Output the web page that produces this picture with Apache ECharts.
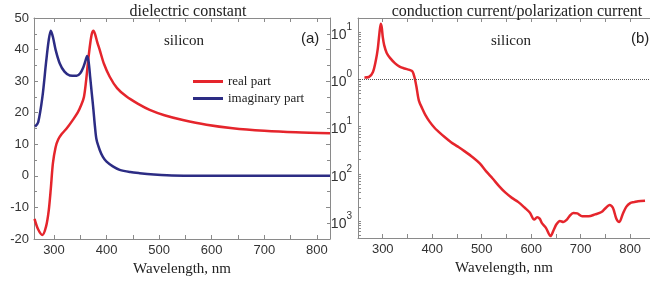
<!DOCTYPE html>
<html>
<head>
<meta charset="utf-8">
<script src="https://cdn.jsdelivr.net/npm/echarts@6/dist/echarts.min.js"></script>
<style>
html, body { margin: 0; padding: 0; background: #fff; }
#chart { width: 650px; height: 282px; }
</style>
</head>
<body>
<div id="chart"></div>
<script>
// (a) dielectric constant of silicon
var realWl = [263, 270, 278, 285, 290, 294, 298, 303, 308, 315, 324, 335, 345, 352, 357, 361, 365, 369, 372, 375, 378, 382, 387, 395, 406, 420, 438, 460, 482, 510, 545, 590, 640, 700, 760, 825];
var realEps = [-13.6, -17, -18.7, -16, -11, -4, 4, 9, 11.5, 13.3, 15, 17.5, 20, 22.5, 25, 30, 36.5, 42, 45, 46, 45, 42.5, 39.9, 35.5, 31.4, 27.8, 25.1, 22.8, 20.9, 19.2, 17.7, 16.2, 15.1, 14.3, 13.8, 13.5];
var imagWl = [264, 270, 278, 285, 290, 294, 298, 303, 311, 320, 330, 343, 350, 356, 360, 363, 366, 369, 372, 375, 378, 381, 387, 393, 400, 412, 425, 445, 463, 490, 515, 560, 620, 700, 825];
var imagEps = [15.6, 17, 25, 36, 43, 46, 44, 40, 35.6, 33, 31.8, 31.7, 32.5, 34.5, 36.5, 38, 36, 31, 26, 21, 15.5, 11.4, 8.2, 6, 4.5, 3, 1.9, 1.2, 0.85, 0.45, 0.2, 0.05, 0, 0, 0];

// (b) conduction current / polarization current, stored as log10
var ratioWl = [263, 272, 280, 286, 290, 293, 296, 298, 300, 303, 308, 315, 325, 334, 344, 354, 360, 364, 368, 373, 380, 386, 395, 405, 412, 425, 438, 451, 465, 483, 496, 509, 522, 535, 548, 561, 574, 587, 597, 606, 612, 617, 622, 630, 639, 645, 651, 658, 665, 672, 677, 685, 693, 703, 716, 729, 742, 750, 758, 765, 772, 778, 785, 792, 800, 808, 816, 830];
var ratioLog = [0.04, 0.05, 0.15, 0.4, 0.65, 0.95, 1.18, 1.1, 0.9, 0.72, 0.56, 0.45, 0.34, 0.27, 0.23, 0.2, 0.17, 0.05, -0.15, -0.45, -0.62, -0.75, -0.9, -1.03, -1.1, -1.22, -1.33, -1.42, -1.52, -1.66, -1.78, -1.95, -2.1, -2.26, -2.4, -2.51, -2.6, -2.72, -2.82, -2.97, -2.92, -2.95, -3.05, -3.15, -3.32, -3.2, -3.07, -3.0, -3.02, -2.97, -2.9, -2.83, -2.84, -2.9, -2.9, -2.86, -2.81, -2.73, -2.66, -2.72, -2.95, -3.02, -2.85, -2.7, -2.62, -2.6, -2.58, -2.57];

// ticks
var xTicks = [300, 400, 500, 600, 700, 800];
var xMinor = [300, 350, 400, 450, 500, 550, 600, 650, 700, 750, 800];
var logTicks = [-3, -2, -1, 0, 1];
var logSup = ['3', '2', '1', '0', '1']; // exponents as printed in the figure

var RED = '#e5252c', BLUE = '#2c2c84', AXIS = '#8a8a8a';
var SERIF = '"Liberation Serif", "DejaVu Serif", serif';
var SANS = '"Liberation Sans", Arial, sans-serif';

function pairs(xs, ys) {
  var out = [];
  for (var i = 0; i < xs.length; i++) out.push([xs[i], ys[i]]);
  return out;
}

// log minor ticks for each decade
var logMinor = [];
for (var d = -4; d <= 1; d++) {
  for (var m = 1; m <= 9; m++) {
    var v = d + Math.log10(m);
    if (v > -3.36 && v < 1.3) logMinor.push(v);
  }
}

var myChart = echarts.init(document.getElementById('chart'));

function xAx(grid, pos, min, max, labels) {
  return {
    type: 'value', gridIndex: grid, position: pos, min: min, max: max,
    axisLine: { show: true, onZero: false, lineStyle: { color: AXIS, width: 1 } },
    axisTick: { show: true, inside: true, length: 4, lineStyle: { color: AXIS }, customValues: xMinor },
    axisLabel: labels ? { show: true, customValues: xTicks, color: '#333', fontSize: 13, fontFamily: SANS, margin: 5 } : { show: false },
    splitLine: { show: false },
    name: labels ? 'Wavelength, nm' : '', nameLocation: 'middle', nameGap: 17,
    nameTextStyle: { fontFamily: SERIF, fontSize: 15, color: '#222' }
  };
}

var option = {
  animation: false,
  backgroundColor: '#fff',
  grid: [
    { left: 34, right: 320, top: 18, bottom: 43 },
    { left: 358, right: -12, top: 18, bottom: 44 }
  ],
  title: [
    { text: 'dielectric constant', left: 183, top: -1, textAlign: 'center',
      textStyle: { fontFamily: SERIF, fontSize: 16, fontWeight: 'normal', color: '#222' } },
    { text: 'conduction current/polarization current', left: 512, top: -1, textAlign: 'center',
      textStyle: { fontFamily: SERIF, fontSize: 16, fontWeight: 'normal', color: '#222' } }
  ],
  legend: {
    orient: 'vertical', left: 188, top: 70, itemWidth: 30, itemHeight: 3, itemGap: 4,
    icon: 'rect',
    data: ['real part', 'imaginary part'],
    textStyle: { fontFamily: SERIF, fontSize: 13, color: '#222' }
  },
  graphic: [
    { type: 'text', left: 164, top: 34, style: { text: 'silicon', font: '15px ' + SERIF, fill: '#222' } },
    { type: 'text', left: 301, top: 31, style: { text: '(a)', font: '15px ' + SANS, fill: '#222' } },
    { type: 'text', left: 491, top: 34, style: { text: 'silicon', font: '15px ' + SERIF, fill: '#222' } },
    { type: 'text', left: 631, top: 31, style: { text: '(b)', font: '15px ' + SANS, fill: '#222' } }
  ],
  xAxis: [
    xAx(0, 'bottom', 262, 825, true),
    xAx(0, 'top', 262, 825, false),
    xAx(1, 'bottom', 250, 840, true),
    xAx(1, 'top', 250, 840, false)
  ],
  yAxis: [
    { type: 'value', gridIndex: 0, position: 'left', min: -20, max: 50, interval: 10,
      axisLine: { show: true, onZero: false, lineStyle: { color: AXIS } },
      axisTick: { show: true, inside: true, length: 4, lineStyle: { color: AXIS } },
      minorTick: { show: true, splitNumber: 2, length: 3, lineStyle: { color: AXIS } },
      axisLabel: { color: '#333', fontSize: 13, fontFamily: SANS, margin: 5 },
      splitLine: { show: false } },
    { type: 'value', gridIndex: 0, position: 'right', min: -20, max: 50, interval: 10,
      axisLine: { show: true, onZero: false, lineStyle: { color: AXIS } },
      axisTick: { show: true, inside: true, length: 4, lineStyle: { color: AXIS } },
      minorTick: { show: true, splitNumber: 2, length: 3, lineStyle: { color: AXIS } },
      axisLabel: { show: false }, splitLine: { show: false } },
    { type: 'value', gridIndex: 1, position: 'left', min: -3.36, max: 1.3,
      axisLine: { show: true, onZero: false, lineStyle: { color: AXIS } },
      axisTick: { show: true, inside: true, length: 3, lineStyle: { color: AXIS }, customValues: logMinor },
      axisLabel: {
        customValues: logTicks, margin: 6,
        formatter: function (v) {
          var i = logTicks.indexOf(Math.round(v));
          return '{b|10}{s|' + logSup[i] + '}';
        },
        rich: {
          b: { fontSize: 14, fontFamily: SANS, color: '#333', lineHeight: 20, verticalAlign: 'bottom' },
          s: { fontSize: 10, fontFamily: SANS, color: '#333', lineHeight: 20, verticalAlign: 'top' }
        }
      },
      splitLine: { show: false } }
  ],
  series: [
    { name: 'real part', type: 'line', xAxisIndex: 0, yAxisIndex: 0, data: pairs(realWl, realEps),
      smooth: 0.3, showSymbol: false, symbol: 'none', lineStyle: { color: RED, width: 2.5 }, itemStyle: { color: RED } },
    { name: 'imaginary part', type: 'line', xAxisIndex: 0, yAxisIndex: 0, data: pairs(imagWl, imagEps),
      smooth: 0.3, showSymbol: false, symbol: 'none', lineStyle: { color: BLUE, width: 2.5 }, itemStyle: { color: BLUE } },
    { name: 'ratio', type: 'line', xAxisIndex: 2, yAxisIndex: 2, data: pairs(ratioWl, ratioLog),
      smooth: 0.3, showSymbol: false, symbol: 'none', lineStyle: { color: RED, width: 2.5 }, itemStyle: { color: RED },
      markLine: { silent: true, symbol: 'none', label: { show: false },
        lineStyle: { type: 'dotted', color: '#555', width: 1 }, data: [{ yAxis: 0 }] } }
  ]
};

myChart.setOption(option, true);
</script>
</body>
</html>
